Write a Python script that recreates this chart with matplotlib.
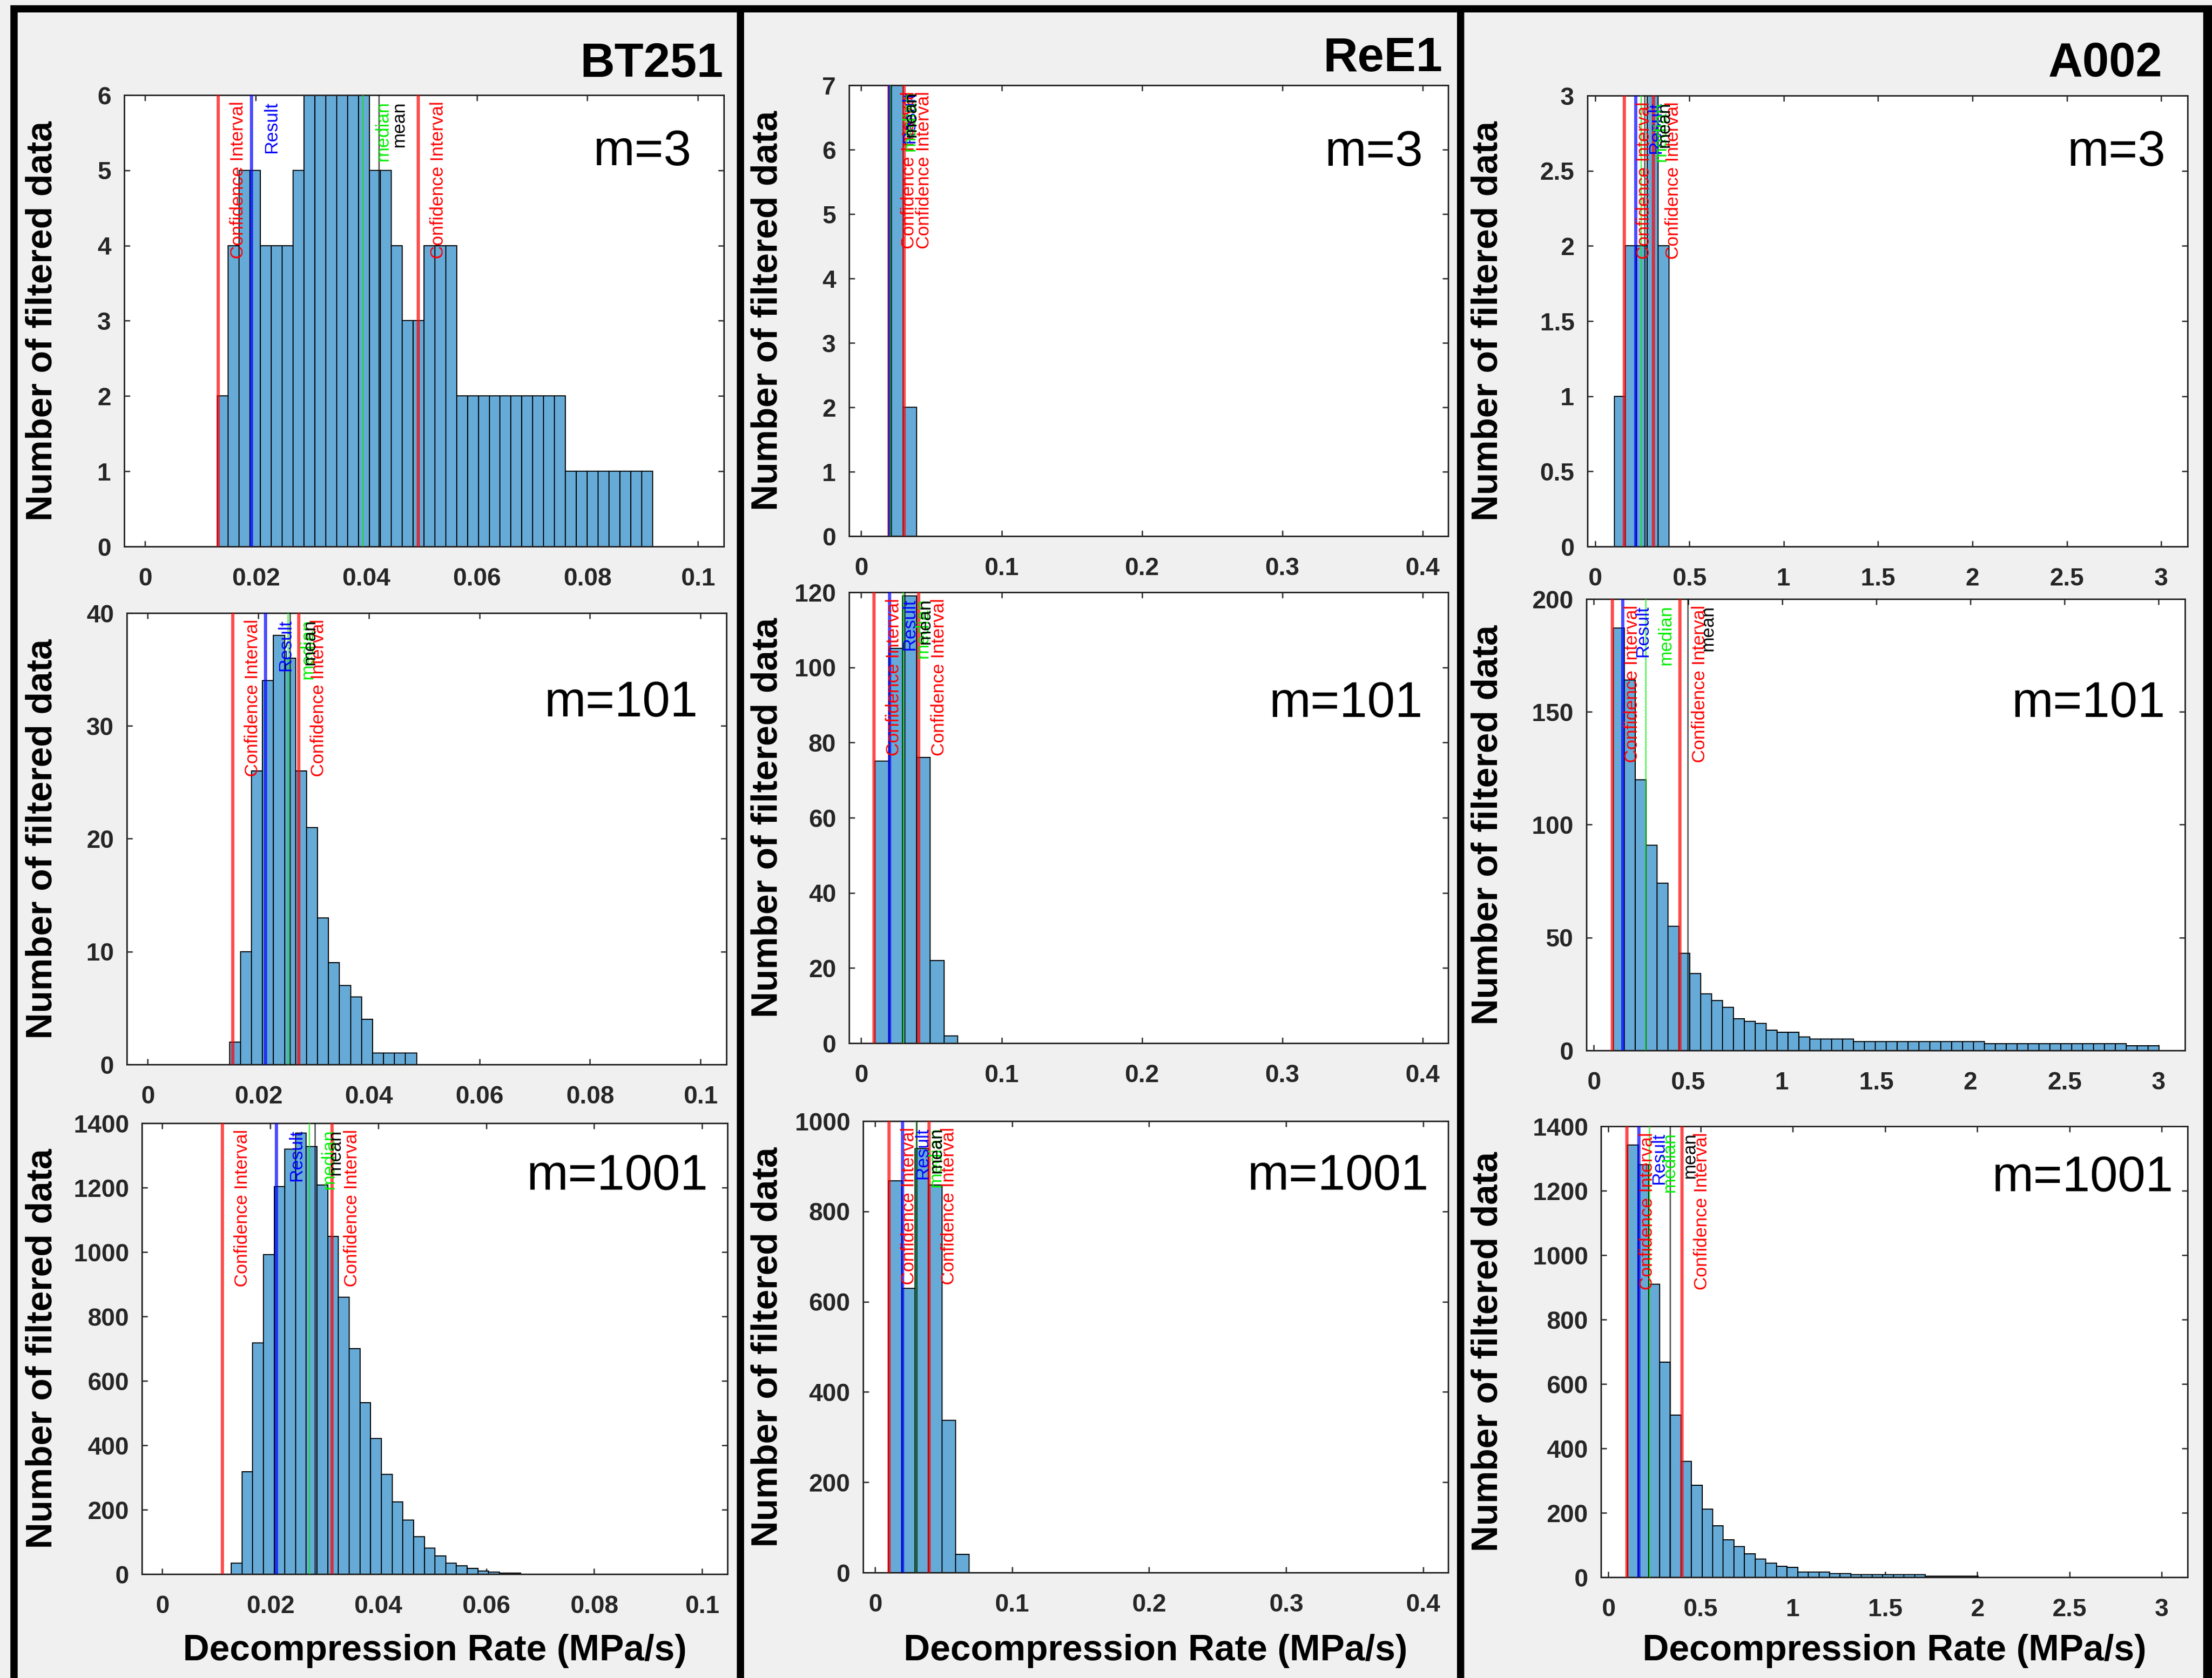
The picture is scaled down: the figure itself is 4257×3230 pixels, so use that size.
import numpy as np
import matplotlib
matplotlib.use('Agg')
import matplotlib.pyplot as plt
import matplotlib.transforms as mtransforms
from matplotlib import font_manager
from matplotlib.patches import Rectangle

# samples (columns) and window sizes m (rows)
samples = ['BT251', 'ReE1', 'A002']
m_values = [3, 101, 1001]

# ---- BT251: first bin edge, bin width (MPa/s) and counts per m
bt251_first_edge = [0.0130, 0.0148, 0.01276]
bt251_bin_width = [0.00197, 0.00199, 0.001987]
bt251_counts = [
    [2, 4, 5, 5, 4, 4, 4, 5, 6, 6, 6, 6, 6, 6, 5, 5, 4, 3, 3, 4, 4, 4,
     2, 2, 2, 2, 2, 2, 2, 2, 2, 2, 1, 1, 1, 1, 1, 1, 1, 1],
    [2, 10, 26, 34, 38, 36, 26, 21, 13, 9, 7, 6, 4, 1, 1, 1, 1],
    [34, 318, 718, 992, 1203, 1320, 1369, 1327, 1208, 1048, 859, 700, 533,
     421, 309, 224, 167, 116, 81, 56, 34, 25, 17, 9, 7, 3, 3],
]
bt251_ci_low = [0.0132, 0.0154, 0.0111]
bt251_result = [0.0192, 0.0213, 0.0211]
bt251_median = [0.0394, 0.0253, 0.0272]
bt251_mean = [0.0423, 0.0257, 0.0283]
bt251_ci_high = [0.0494, 0.0273, 0.0314]

# ---- ReE1
ree1_first_edge = [0.0198, 0.0099, 0.0098]
ree1_bin_width = [0.0099, 0.0098, 0.0098]
ree1_counts = [
    [7, 2],
    [75, 105, 119, 76, 22, 2],
    [868, 629, 939, 858, 337, 40],
]
ree1_ci_low = [0.0199, 0.0092, 0.0102]
ree1_result = [0.0202, 0.0202, 0.0200]
ree1_median = [0.0206, 0.0298, 0.0299]
ree1_mean = [0.0213, 0.0310, 0.0303]
ree1_ci_high = [0.0305, 0.0411, 0.0394]

# ---- A002
a002_first_edge = [0.1024, 0.1024, 0.1048]
a002_bin_width = [0.058, 0.058, 0.0576]
a002_counts = [
    [1, 2, 2, 3, 2],
    [187, 164, 120, 91, 74, 55, 43, 34, 25, 22, 19, 14, 13, 12, 9, 8, 8, 6,
     5, 5, 5, 5, 4, 4, 4, 4, 4, 4, 4, 4, 4, 4, 4, 4, 3, 3, 3, 3, 3, 3, 3,
     3, 3, 3, 3, 3, 3, 2, 2, 2],
    [1342, 1280, 909, 667, 503, 360, 285, 211, 159, 116, 95, 73, 56, 43, 34,
     30, 16, 16, 16, 11, 11, 8, 8, 8, 8, 8, 8, 8, 3, 3, 3, 3, 3],
]
a002_ci_low = [0.156, 0.097, 0.102]
a002_result = [0.215, 0.154, 0.165]
a002_median = [0.243, 0.276, 0.223]
a002_mean = [0.262, 0.499, 0.335]
a002_ci_high = [0.310, 0.456, 0.398]

# axis ranges
x_limits = [(-0.0038, 0.1047), (-0.0087, 0.4183), (-0.040, 3.14)]
x_tick_step = [0.02, 0.1, 0.5]
x_tick_max = [0.1, 0.4, 3.0]
y_max = [[6, 40, 1400], [7, 120, 1000], [3, 200, 1400]]
y_tick_step = [[1, 10, 200], [1, 20, 200], [0.5, 50, 200]]

first_edges = [bt251_first_edge, ree1_first_edge, a002_first_edge]
bin_widths = [bt251_bin_width, ree1_bin_width, a002_bin_width]
all_counts = [bt251_counts, ree1_counts, a002_counts]
ci_lows = [bt251_ci_low, ree1_ci_low, a002_ci_low]
results = [bt251_result, ree1_result, a002_result]
medians = [bt251_median, ree1_median, a002_median]
means = [bt251_mean, ree1_mean, a002_mean]
ci_highs = [bt251_ci_high, ree1_ci_high, a002_ci_high]

# ---- layout in pixels (origin top-left): x0, x1, y_top, y_bottom
W, H = 4257, 3230
panel_px = [
    [(239, 1393, 183, 1052), (244, 1398, 1180, 2049), (273, 1400, 2162, 3030)],
    [(1634, 2787, 164, 1032), (1634, 2787, 1140, 2008), (1661, 2787, 2158, 3027)],
    [(3055, 4210, 184, 1052), (3053, 4205, 1153, 2022), (3081, 4210, 2168, 3036)],
]
ylabel_x_px = [81, 1477, 2863]
xlabel_y_px = 3178
title_pos_px = [(1393, 148), (2777, 137), (4162, 147)]
# m= label anchor (right edge, baseline) in axes fractions
m_label_pos = [
    [(0.946, 0.845), (0.953, 0.771), (0.967, 0.853)],
    [(0.958, 0.821), (0.958, 0.723), (0.967, 0.848)],
    [(0.9635, 0.844), (0.967, 0.739), (0.976, 0.856)],
]

# ---- fonts
installed = {f.name for f in font_manager.fontManager.ttflist}
if 'Liberation Sans Narrow' in installed:
    head_family, title_size, m_size = 'Liberation Sans Narrow', 27, 26.5
else:
    head_family, title_size, m_size = 'Liberation Sans', 22.1, 23.0
plt.rcParams['font.family'] = ['Liberation Sans', 'DejaVu Sans']
plt.rcParams['font.weight'] = 'bold'

bar_face = '#66aad7'
axis_color = '#262626'
bg = '#f0f0f0'

fig = plt.figure(figsize=((W + 0.01) / 300, (H + 0.01) / 300), dpi=300, facecolor=bg)

# black frame and column dividers
def frame_rect(x0, x1, y0, y1):
    fig.add_artist(Rectangle((x0 / W, 1 - y1 / H), (x1 - x0) / W, (y1 - y0) / H,
                             transform=fig.transFigure, facecolor='black',
                             edgecolor='none', zorder=10))

frame_rect(20, W, 10, 24)
frame_rect(20, 34, 10, H)
frame_rect(1418, 1432, 10, H)
frame_rect(2804, 2818, 10, H)
frame_rect(4240, W, 10, H)

for i, name in enumerate(samples):
    tx, ty = title_pos_px[i]
    fig.text(tx / W, 1 - ty / H, name, ha='right', va='baseline',
             fontsize=title_size, family=head_family, weight='bold')

    for j, m in enumerate(m_values):
        x0, x1, yt, yb = panel_px[i][j]
        ax = fig.add_axes([x0 / W, 1 - yb / H, (x1 - x0) / W, (yb - yt) / H])
        ax.set_facecolor('white')

        counts = np.array(all_counts[i][j])
        edges = first_edges[i][j] + bin_widths[i][j] * np.arange(len(counts) + 1)
        ax.bar(edges[:-1], counts, width=bin_widths[i][j], align='edge',
               color=bar_face, edgecolor='black', linewidth=0.5, zorder=2)

        markers = [
            (ci_lows[i][j], 'Confidence Interval', '#ff0000', 1.5),
            (ci_highs[i][j], 'Confidence Interval', '#ff0000', 1.5),
            (results[i][j], 'Result', '#0000ff', 1.5),
            (medians[i][j], 'median', '#00ee00', 0.6),
            (means[i][j], 'mean', 'black', 0.6),
        ]
        label_tr = ax.get_xaxis_transform() + mtransforms.ScaledTranslation(
            5.3 / 72, -2.9 / 72, fig.dpi_scale_trans)
        for val, text, col, lw in markers:
            ax.axvline(val, color=col, lw=lw, alpha=0.7, zorder=3)
            ax.text(val, 1, text, transform=label_tr, rotation=90, ha='left',
                    va='top', color=col, fontsize=8.45, weight='normal',
                    zorder=4, clip_on=False)

        ax.set_xlim(*x_limits[i])
        ax.set_ylim(0, y_max[i][j])
        ax.set_xticks(np.arange(0, x_tick_max[i] + 1e-9, x_tick_step[i]))
        ax.set_yticks(np.arange(0, y_max[i][j] + 1e-9, y_tick_step[i][j]))
        ax.xaxis.set_major_formatter(plt.FuncFormatter(lambda v, p: f'{v:g}'))
        ax.yaxis.set_major_formatter(plt.FuncFormatter(lambda v, p: f'{v:g}'))
        ax.tick_params(direction='in', top=True, right=True, length=2.6,
                       width=0.6, color=axis_color, labelcolor=axis_color,
                       labelsize=11.5)
        ax.tick_params(axis='x', pad=9.5)
        ax.tick_params(axis='y', pad=6)
        for s in ax.spines.values():
            s.set_linewidth(0.7)
            s.set_color(axis_color)

        ax.text(*m_label_pos[i][j], f'm={m}', transform=ax.transAxes,
                ha='right', va='baseline', fontsize=m_size,
                family=head_family, weight='normal', zorder=5)

        ax.set_ylabel('Number of filtered data', fontsize=16.9, weight='bold')
        ax.yaxis.set_label_coords(
            ylabel_x_px[i] / W, 0.5,
            transform=mtransforms.blended_transform_factory(fig.transFigure, ax.transAxes))
        ax.yaxis.label.set_va('center')

        if j == len(m_values) - 1:
            ax.set_xlabel('Decompression Rate (MPa/s)', fontsize=16.9, weight='bold')
            ax.xaxis.set_label_coords(
                0.5, 1 - xlabel_y_px / H,
                transform=mtransforms.blended_transform_factory(ax.transAxes, fig.transFigure))
            ax.xaxis.label.set_va('center')

fig.savefig('out.png', dpi=300, facecolor=bg)
